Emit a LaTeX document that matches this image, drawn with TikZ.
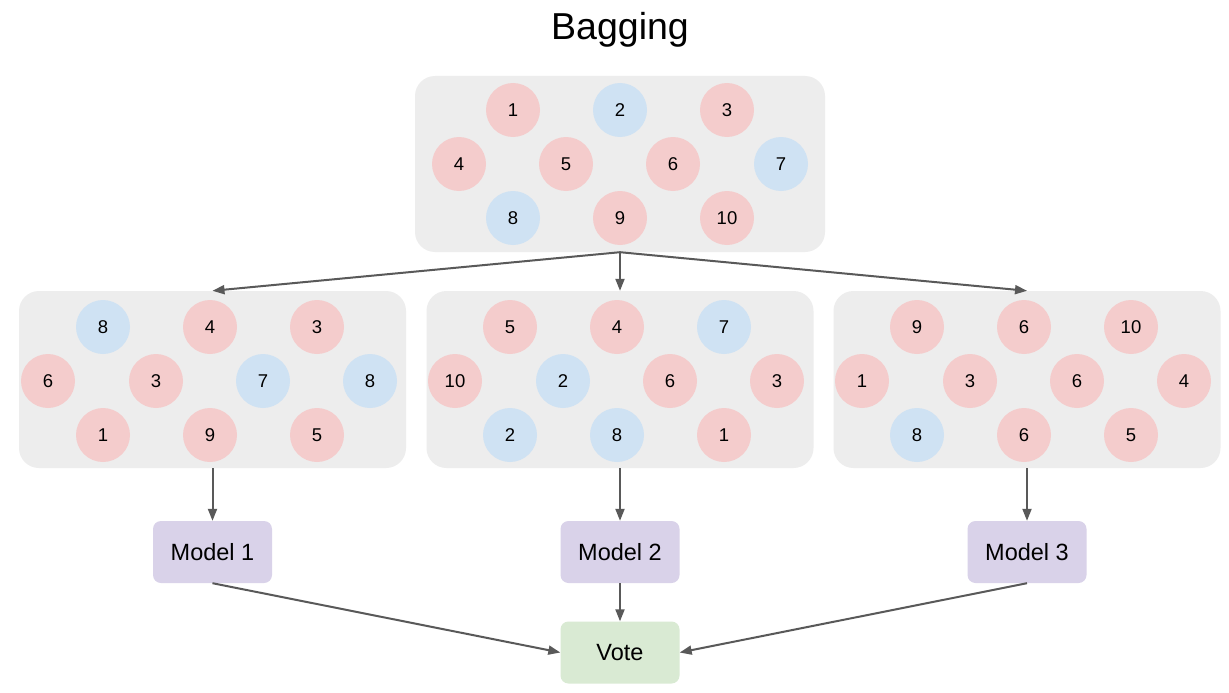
\documentclass[tikz,border=0pt]{standalone}
\usepackage{fontspec}
\setmainfont{Liberation Sans}
\usepackage{tikz}
\usetikzlibrary{arrows.meta}
\definecolor{panelgrey}{HTML}{EDEDED}
\definecolor{redfill}{HTML}{F4CCCC}
\definecolor{bluefill}{HTML}{CFE2F3}
\definecolor{modelfill}{HTML}{D9D2E9}
\definecolor{votefill}{HTML}{D9EAD3}
\definecolor{arrowgrey}{HTML}{595959}
\tikzset{
	panelstyle/.style={rectangle,rounded corners=20pt,fill=panelgrey,minimum width=387pt,minimum height=177pt,inner sep=0pt},
	redstyle/.style={circle,fill=redfill,minimum size=54pt,inner sep=0pt,font=\fontsize{18.5}{20}\selectfont},
	bluestyle/.style={circle,fill=bluefill,minimum size=54pt,inner sep=0pt,font=\fontsize{18.5}{20}\selectfont},
	modelstyle/.style={rectangle,rounded corners=8pt,fill=modelfill,minimum width=119pt,minimum height=62pt,font=\fontsize{23.5}{26}\selectfont},
	votestyle/.style={rectangle,rounded corners=8pt,fill=votefill,minimum width=119pt,minimum height=62pt,font=\fontsize{23.5}{26}\selectfont},
	arrowstyle/.style={draw=arrowgrey,line width=2pt,-{Triangle[length=12pt,width=9pt]}}
}
\begin{document}
\begin{tikzpicture}[x=1pt,y=-1pt]
		\useasboundingbox[fill=white] (0,0) rectangle (1229,693);
		\node[font=\fontsize{37.5}{42}\selectfont] (title) at (620,30) {Bagging};
		% full data set
		\node[panelstyle,minimum width=410pt,minimum height=176pt] (full) at (620,164) {};
		\node[redstyle] (t1) at (513,110) {1};
		\node[bluestyle] (t2) at (620,110) {2};
		\node[redstyle] (t3) at (727,110) {3};
		\node[redstyle] (t4) at (459,164) {4};
		\node[redstyle] (t5) at (566,164) {5};
		\node[redstyle] (t6) at (673,164) {6};
		\node[bluestyle] (t7) at (781,164) {7};
		\node[bluestyle] (t8) at (513,218) {8};
		\node[redstyle] (t9) at (620,218) {9};
		\node[redstyle] (t10) at (727,218) {10};
		% bootstrap samples
		\node[panelstyle] (bag1) at (212.5,379.5) {};
		\node[panelstyle] (bag2) at (620,379.5) {};
		\node[panelstyle] (bag3) at (1027,379.5) {};
		\node[bluestyle] (a1) at (103,327) {8};
		\node[redstyle] (a2) at (210,327) {4};
		\node[redstyle] (a3) at (317,327) {3};
		\node[redstyle] (a4) at (48,381) {6};
		\node[redstyle] (a5) at (156,381) {3};
		\node[bluestyle] (a6) at (263,381) {7};
		\node[bluestyle] (a7) at (370,381) {8};
		\node[redstyle] (a8) at (103,435) {1};
		\node[redstyle] (a9) at (210,435) {9};
		\node[redstyle] (a10) at (317,435) {5};
		\node[redstyle] (b1) at (510,327) {5};
		\node[redstyle] (b2) at (617,327) {4};
		\node[bluestyle] (b3) at (724,327) {7};
		\node[redstyle] (b4) at (455,381) {10};
		\node[bluestyle] (b5) at (563,381) {2};
		\node[redstyle] (b6) at (670,381) {6};
		\node[redstyle] (b7) at (777,381) {3};
		\node[bluestyle] (b8) at (510,435) {2};
		\node[bluestyle] (b9) at (617,435) {8};
		\node[redstyle] (b10) at (724,435) {1};
		\node[redstyle] (c1) at (917,327) {9};
		\node[redstyle] (c2) at (1024,327) {6};
		\node[redstyle] (c3) at (1131,327) {10};
		\node[redstyle] (c4) at (862,381) {1};
		\node[redstyle] (c5) at (970,381) {3};
		\node[redstyle] (c6) at (1077,381) {6};
		\node[redstyle] (c7) at (1184,381) {4};
		\node[bluestyle] (c8) at (917,435) {8};
		\node[redstyle] (c9) at (1024,435) {6};
		\node[redstyle] (c10) at (1131,435) {5};
		% models and vote
		\node[modelstyle] (m1) at (212.5,552) {Model 1};
		\node[modelstyle] (m2) at (620,552) {Model 2};
		\node[modelstyle] (m3) at (1027,552) {Model 3};
		\node[votestyle] (vote) at (620,652.5) {Vote};
		\draw[arrowstyle] (full.south)--(bag1.north);
		\draw[arrowstyle] (full.south)--(bag2.north);
		\draw[arrowstyle] (full.south)--(bag3.north);
		\draw[arrowstyle] (bag1.south)--(m1.north);
		\draw[arrowstyle] (bag2.south)--(m2.north);
		\draw[arrowstyle] (bag3.south)--(m3.north);
		\draw[arrowstyle] (m1.south)--(vote.west);
		\draw[arrowstyle] (m2.south)--(vote.north);
		\draw[arrowstyle] (m3.south)--(vote.east);
\end{tikzpicture}
\end{document}
